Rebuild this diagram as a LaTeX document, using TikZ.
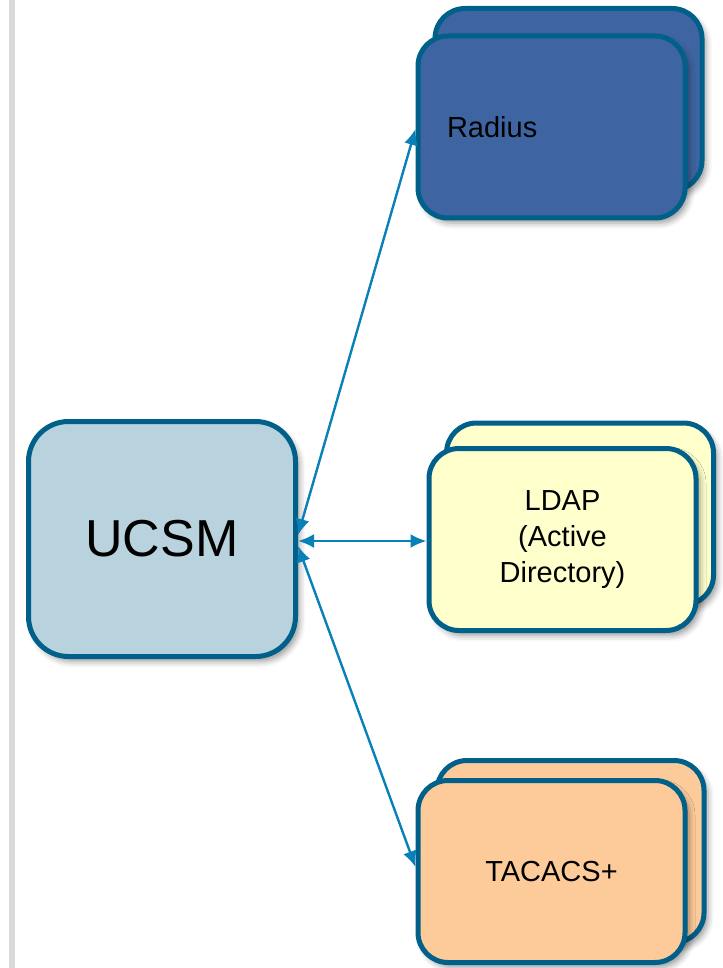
\documentclass[tikz,border=0pt]{standalone}
\usepackage{fontspec}
\setmainfont{Liberation Sans}
\usetikzlibrary{arrows.meta,shadows.blur}
\definecolor{bordc}{RGB}{0,96,137}
\definecolor{radfill}{RGB}{62,101,162}
\definecolor{ucsmfill}{RGB}{185,211,222}
\definecolor{ldapfill}{RGB}{255,255,204}
\definecolor{tacfill}{RGB}{253,203,153}
\definecolor{arrc}{RGB}{10,128,184}
\definecolor{barc}{RGB}{217,217,217}
\tikzset{
  box/.style={draw=bordc, line width=5pt, rounded corners=30pt, minimum width=267pt, minimum height=182pt, inner sep=0pt,
    blur shadow={shadow xshift=4pt, shadow yshift=-5pt, shadow blur radius=6pt, shadow opacity=40}},
  lbl/.style={font=\fontsize{29}{36}\selectfont, align=center},
  conn/.style={draw=arrc, line width=2.4pt, {Latex[length=16pt,width=14pt]}-{Latex[length=16pt,width=14pt]}}
}
\begin{document}
\begin{tikzpicture}[x=1pt,y=-1pt]
\useasboundingbox (0,0) rectangle (722,968);
\fill[barc] (9,0) rectangle (15,968);
% UCSM
\node[box, fill=ucsmfill, minimum width=267pt, minimum height=235pt, rounded corners=40pt, font=\fontsize{52}{62}\selectfont] (ucsm) at (162,539) {UCSM};
% Radius
\node[box, fill=radfill] (radback) at (568.5,99.5) {};
\node[box, fill=radfill, text width=209pt, align=left, font=\fontsize{29}{36}\selectfont] (radius) at (551.5,127) {Radius};
% LDAP
\node[box, fill=ldapfill] (ldapback) at (580,514) {};
\node[box, fill=ldapfill, lbl] (ldap) at (562.5,539.5) {LDAP\\(Active\\Directory)};
% TACACS
\node[box, fill=tacfill] (tacback) at (570.5,851.5) {};
\node[box, fill=tacfill, lbl] (tacacs) at (551.5,871.5) {TACACS+};
% connectors
\coordinate (u1) at ([yshift=4pt]ucsm.east);
\coordinate (u2) at ([yshift=-2pt]ucsm.east);
\coordinate (u3) at ([yshift=-7pt]ucsm.east);
\draw[conn] (u1) -- ([yshift=-2pt]radius.west);
\draw[conn] (u2) -- ([yshift=-1.5pt]ldap.west);
\draw[conn] (u3) -- ([yshift=4.5pt]tacacs.west);
\end{tikzpicture}
\end{document}
